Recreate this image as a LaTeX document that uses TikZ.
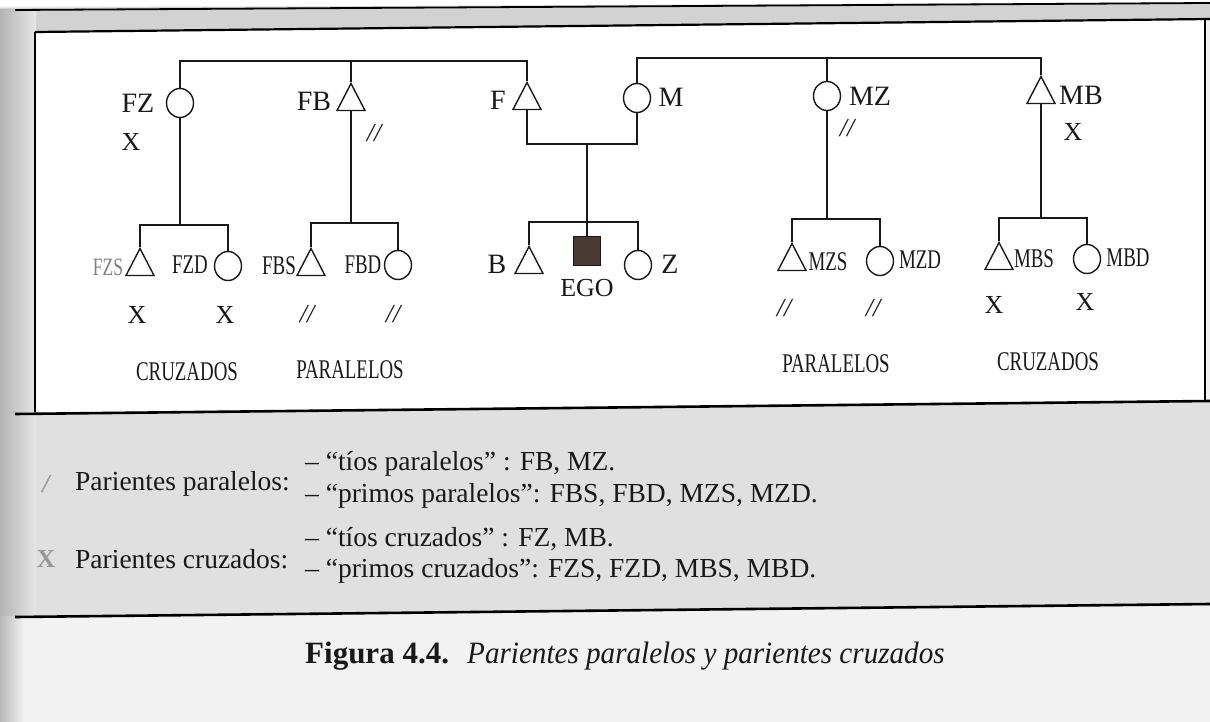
\documentclass[tikz,border=0pt]{standalone}
\usepackage{fontspec}
\setmainfont{Liberation Serif}
\newfontfamily\cond{Liberation Serif}[FakeStretch=0.7]
\newfontfamily\capi{Liberation Serif}[FakeStretch=0.94]
\usetikzlibrary{shapes.geometric}
\definecolor{egocol}{RGB}{74,58,50}
\definecolor{pagebg}{RGB}{242,242,242}
\definecolor{bandbg}{RGB}{210,210,210}
\definecolor{legbg}{RGB}{224,224,224}
\definecolor{gutdark}{RGB}{180,180,180}
\definecolor{gutlight}{RGB}{230,230,230}
\definecolor{ink}{RGB}{25,25,25}
\begin{document}
\begin{tikzpicture}[x=1pt,y=-1pt,
  lw/.style={line width=1.4pt, draw=ink},
  male/.style={draw=ink, line width=1.4pt, isosceles triangle, shape border rotate=90,
    isosceles triangle stretches, minimum width=28pt, minimum height=27pt, inner sep=0pt},
  female/.style={draw=ink, line width=1.4pt, ellipse, minimum width=27pt, minimum height=29pt, inner sep=0pt},
  egobox/.style={draw=ink, line width=1pt, fill=egocol, minimum width=27pt, minimum height=28pt, inner sep=0pt},
  labA/.style={text=ink, font=\fontsize{28}{30}\selectfont, inner sep=0pt},
  labX/.style={text=ink, font=\fontsize{26}{28}\selectfont, inner sep=0pt},
  labB/.style={text=ink, font=\cond\fontsize{27}{29}\selectfont, inner sep=0pt},
  fadelab/.style={text=ink!55, font=\cond\fontsize{25}{27}\selectfont, inner sep=0pt},
  slashlab/.style={text=ink, font=\fontsize{26}{28}\selectfont\itshape, inner sep=0pt},
  grp/.style={text=ink, font=\cond\fontsize{27}{29}\selectfont, inner sep=0pt},
  legl/.style={text=ink, font=\fontsize{27.5}{30}\selectfont, inner sep=0pt, anchor=west},
  legr/.style={text=ink, font=\fontsize{27.5}{30}\selectfont, inner sep=0pt, anchor=west},
  legm/.style={text=black!40, font=\fontsize{26}{28}\selectfont\bfseries, inner sep=0pt},
  frame/.style={draw=black, line width=2.2pt}
]
\useasboundingbox (0,0) rectangle (1210,722);
% ---------- backgrounds ----------
\fill[pagebg] (0,0) rectangle (1210,722);
\fill[white] (0,0) rectangle (1210,6);
\fill[bandbg] (0,8) -- (1210,2) -- (1210,20) -- (0,32) -- cycle;
\fill[white] (35,32) -- (1205,20) -- (1205,402) -- (35,412) -- cycle;
\fill[legbg] (0,413) -- (1210,401) -- (1210,606) -- (0,616) -- cycle;
\shade[left color=gutdark, right color=gutlight] (0,10) rectangle (36,616);
\shade[left color=black!28, right color=pagebg] (0,616) rectangle (24,722);
% ---------- frame lines ----------
\draw[line width=1.8pt, draw=black] (15,10) -- (1210,3);
\draw[frame] (35,32) -- (1210,19);
\draw[line width=1.4pt, draw=black] (35,32) -- (35,412);
\draw[line width=1.4pt, draw=black] (1205,20) -- (1205,402);
\draw[line width=2.6pt, draw=black] (15,414) -- (1210,401);
\draw[line width=2.6pt, draw=black] (15,617) -- (1210,604);
% ---------- level coordinates ----------
\coordinate (top1) at (0,61);
\coordinate (top2) at (0,58);
\coordinate (marr) at (0,144);
% ---------- first generation ----------
\node[female] (FZ) at (180,103) {};
\node[male]   (FB) at (351,102) {};
\node[male]   (F)  at (527,101) {};
\node[female] (M)  at (637,98) {};
\node[female] (MZ) at (827,96) {};
\node[male]   (MB) at (1041,95) {};
% ---------- second generation ----------
\node[male]   (FZS) at (140,267) {};
\node[female] (FZD) at (228,266) {};
\node[male]   (FBS) at (311,267) {};
\node[female] (FBD) at (398,265) {};
\node[male]   (B)   at (529,265) {};
\node[egobox] (EGO) at (587,251) {};
\node[female] (Z)   at (638,265) {};
\node[male]   (MZS) at (792,262) {};
\node[female] (MZD) at (880,261) {};
\node[male]   (MBS) at (999,261) {};
\node[female] (MBD) at (1087,259) {};
% ---------- sibling-set levels ----------
\coordinate (sFZ) at (0,225);
\coordinate (sFB) at (0,223);
\coordinate (sEGO) at (0,222);
\coordinate (sMZ) at (0,219);
\coordinate (sMB) at (0,218);
% ---------- connectors ----------
\draw[lw] (FZ.north) -- (FZ.north |- top1) -| (F.north);
\draw[lw] (FB.north) -- (FB.north |- top1);
\draw[lw] (M.north) -- (M.north |- top2) -| (MB.north);
\draw[lw] (MZ.north) -- (MZ.north |- top2);
\draw[lw] (F.south) -- (F.south |- marr) -| (M.south);
\coordinate (mid) at (EGO.north |- marr);
\draw[lw] (mid) -- (EGO.north);
\draw[lw] (B.north) -- (B.north |- sEGO) -| (Z.north);
\draw[lw] (FZ.south) -- (FZ.south |- sFZ);
\draw[lw] (FZS.north) -- (FZS.north |- sFZ) -| (FZD.north);
\draw[lw] (FB.south) -- (FB.south |- sFB);
\draw[lw] (FBS.north) -- (FBS.north |- sFB) -| (FBD.north);
\draw[lw] (MZ.south) -- (MZ.south |- sMZ);
\draw[lw] (MZS.north) -- (MZS.north |- sMZ) -| (MZD.north);
\draw[lw] (MB.south) -- (MB.south |- sMB);
\draw[lw] (MBS.north) -- (MBS.north |- sMB) -| (MBD.north);
% ---------- labels ----------
\node[labA] (tFZ) at (138,103) {FZ};
\node[labX] (xFZ) at (131,142) {X};
\node[labA] (tFB) at (314,101) {FB};
\node[slashlab] (pFB) at (374,133) {//};
\node[labA] (tF) at (498,100) {F};
\node[labA] (tM) at (671,97) {M};
\node[labA] (tMZ) at (870,96) {MZ};
\node[slashlab] (pMZ) at (847,128) {//};
\node[labA] (tMB) at (1081,95) {MB};
\node[labX] (xMB) at (1073,132) {X};
\node[fadelab] (tFZS) at (108,267) {FZS};
\node[labB] (tFZD) at (190,265) {FZD};
\node[labX] (xFZS) at (137,315) {X};
\node[labX] (xFZD) at (225,315) {X};
\node[labB] (tFBS) at (279,266) {FBS};
\node[labB] (tFBD) at (363,265) {FBD};
\node[slashlab] (pFBS) at (307,314) {//};
\node[slashlab] (pFBD) at (393,314) {//};
\node[labA] (tB) at (497,264) {B};
\node[labX] (tEGO) at (587,288) {EGO};
\node[labA] (tZ) at (670,264) {Z};
\node[labB] (tMZS) at (828,262) {MZS};
\node[labB] (tMZD) at (920,260) {MZD};
\node[slashlab] (pMZS) at (784,308) {//};
\node[slashlab] (pMZD) at (873,308) {//};
\node[labB] (tMBS) at (1034,259) {MBS};
\node[labB] (tMBD) at (1128,258) {MBD};
\node[labX] (xMBS) at (994,305) {X};
\node[labX] (xMBD) at (1085,302) {X};
\node[grp] (g1) at (187,372) {CRUZADOS};
\node[grp] (g2) at (350,370) {PARALELOS};
\node[grp] (g3) at (836,364) {PARALELOS};
\node[grp] (g4) at (1048,362) {CRUZADOS};
% ---------- legend ----------
\node[legm] (m1) at (46,484) {\itshape /};
\node[legl] (l1) at (75,484) {Parientes paralelos:};
\node[legr] (r1) at (305,464) {– “tíos paralelos” : FB, MZ.};
\node[legr] (r2) at (305,496) {– “primos paralelos”: FBS, FBD, MZS, MZD.};
\node[legm] (m2) at (46,559) {X};
\node[legl] (l2) at (75,559) {Parientes cruzados:};
\node[legr] (r3) at (305,539) {– “tíos cruzados” : FZ, MB.};
\node[legr] (r4) at (305,571) {– “primos cruzados”: FZS, FZD, MBS, MBD.};
% ---------- caption ----------
\node[anchor=west, inner sep=0pt, text=ink, font=\fontsize{31}{34}\selectfont\bfseries] (cap1) at (305,656) {Figura 4.4.};
\node[anchor=west, inner sep=0pt, text=ink, font=\capi\fontsize{31}{34}\selectfont\itshape] (cap2) at (467,656) {Parientes paralelos y parientes cruzados};
\end{tikzpicture}
\end{document}
